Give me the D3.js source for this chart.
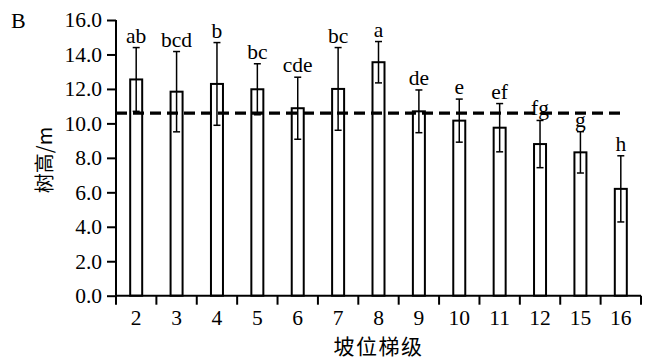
<!DOCTYPE html>
<html><head><meta charset="utf-8">
<script src="https://cdn.jsdelivr.net/npm/d3@7"></script>
<style>body{margin:0;background:#fff}svg{display:block}</style>
</head><body><svg id="c" width="646" height="359"></svg>
<script>
const categories = ["2","3","4","5","6","7","8","9","10","11","12","15","16"];
const means = [12.55, 11.84, 12.29, 11.98, 10.88, 12.0, 13.55, 10.7, 10.16, 9.75, 8.8, 8.32, 6.2];
const errs = [1.85, 2.33, 2.4, 1.48, 1.8, 2.4, 1.2, 1.24, 1.25, 1.4, 1.37, 1.2, 1.92];
const letters = ["ab","bcd","b","bc","cde","bc","a","de","e","ef","fg","g","h"];
const yTicks = [0,2,4,6,8,10,12,14,16];
const meanLine = 10.6;

const svg = d3.select("#c");
const L = 116, R = 641, T = 20, B = 295.7;
const serif = "'Liberation Serif','Times New Roman',serif";
const cjk = "'Noto Sans CJK SC',sans-serif";
const fs = 21.5;

const x = d3.scaleBand().domain(categories).range([L, R]).paddingInner(0).paddingOuter(0);
const y = d3.scaleLinear().domain([0, 16]).range([B, T]);
const bw = 12;

// bars
svg.append("g").selectAll("rect").data(categories).join("rect")
  .attr("x", d => x(d) + x.bandwidth()/2 - bw/2)
  .attr("y", (d,i) => y(means[i]))
  .attr("width", bw)
  .attr("height", (d,i) => y(0) - y(means[i]))
  .attr("fill", "#fff").attr("stroke", "#000").attr("stroke-width", 2);

// error bars
const eg = svg.append("g").attr("stroke", "#000").attr("stroke-width", 1.5);
categories.forEach((c, i) => {
  const cx = x(c) + x.bandwidth()/2;
  eg.append("line").attr("x1", cx).attr("x2", cx).attr("y1", y(means[i]+errs[i])).attr("y2", y(means[i]-errs[i]));
  eg.append("line").attr("x1", cx-3.5).attr("x2", cx+3.5).attr("y1", y(means[i]+errs[i])).attr("y2", y(means[i]+errs[i]));
  eg.append("line").attr("x1", cx-3.5).attr("x2", cx+3.5).attr("y1", y(means[i]-errs[i])).attr("y2", y(means[i]-errs[i]));
});

// dashed mean line
svg.append("line")
  .attr("x1", L).attr("x2", x("16") + x.bandwidth()/2)
  .attr("y1", y(meanLine)).attr("y2", y(meanLine))
  .attr("stroke", "#000").attr("stroke-width", 3.2).attr("stroke-dasharray", "11,6");

// letters
svg.append("g").selectAll("text").data(categories).join("text")
  .attr("x", d => x(d) + x.bandwidth()/2)
  .attr("y", (d,i) => y(means[i]+errs[i]) - 5)
  .attr("text-anchor", "middle")
  .attr("font-family", serif).attr("font-size", fs)
  .text((d,i) => letters[i]);

// axes
const yAxis = d3.axisLeft(y).tickValues(yTicks).tickFormat(d3.format(".1f")).tickSize(9).tickPadding(5);
const gy = svg.append("g").attr("transform", `translate(${L},0)`).call(yAxis);
gy.select(".domain").attr("stroke-width", 2).attr("d", `M0,${B}V${T}`);
gy.selectAll(".tick line").attr("stroke-width", 2);
gy.selectAll("text").attr("font-family", serif).attr("font-size", fs).attr("fill", "#000");

const xAxis = d3.axisBottom(x).tickSize(0).tickPadding(14);
const gx = svg.append("g").attr("transform", `translate(0,${B})`).call(xAxis);
gx.select(".domain").attr("stroke-width", 2).attr("d", `M${L},0H${R}`);
gx.selectAll("text").attr("font-family", serif).attr("font-size", fs).attr("fill", "#000");
// boundary ticks
const bounds = categories.map(c => x(c)).concat([R]);
svg.append("g").selectAll("line").data(bounds).join("line")
  .attr("x1", d => d).attr("x2", d => d).attr("y1", B).attr("y2", B + 9)
  .attr("stroke", "#000").attr("stroke-width", 2);

// titles
svg.append("text").attr("x", (L+R)/2).attr("y", 354).attr("text-anchor", "middle")
  .attr("font-family", cjk).attr("font-size", 21).attr("letter-spacing", 1.5).text("坡位梯级");
svg.append("text").attr("transform", `translate(52,160) rotate(-90)`).attr("text-anchor", "middle")
  .attr("font-family", cjk).attr("font-size", 20).text("树高/m");
svg.append("text").attr("x", 11).attr("y", 28).attr("font-family", serif).attr("font-size", 22).text("B");
</script></body></html>
